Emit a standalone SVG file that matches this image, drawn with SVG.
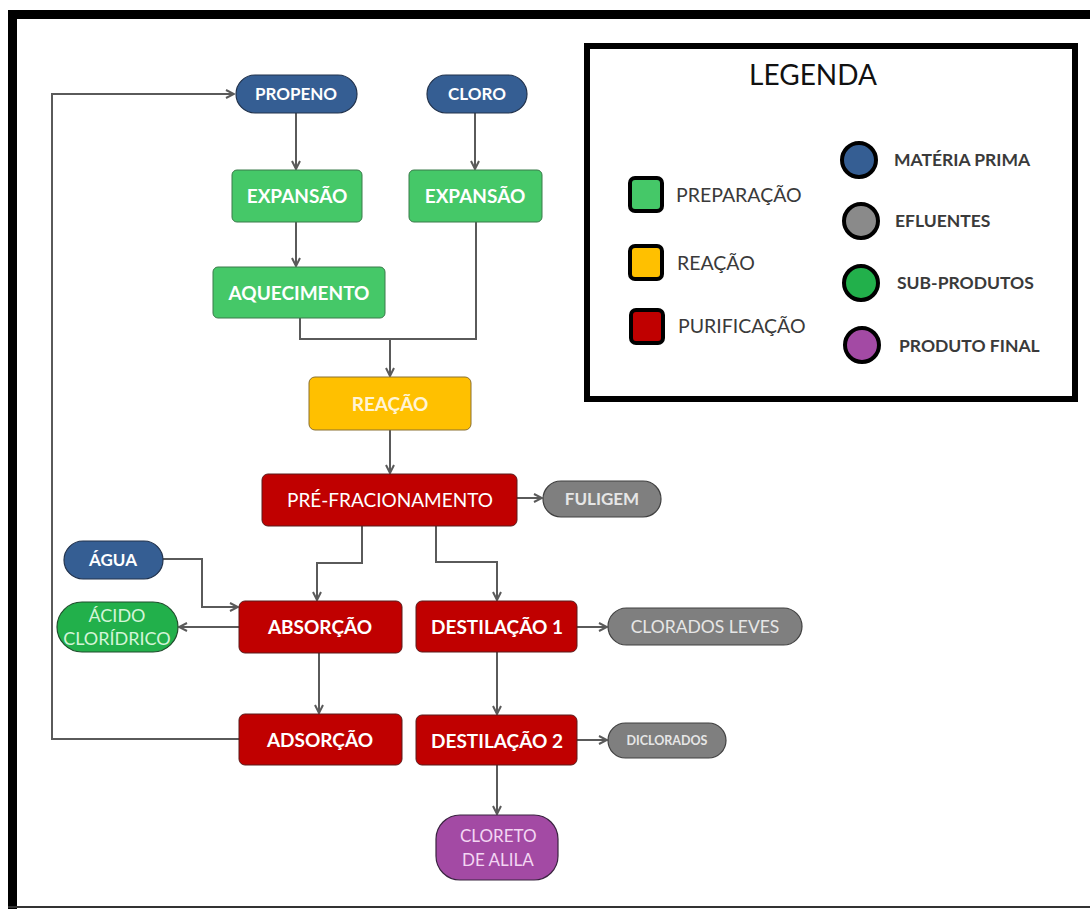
<svg xmlns="http://www.w3.org/2000/svg" width="1090" height="909" viewBox="0 0 1090 909">
<defs>
<style>
text{font-family:Lato,"Open Sans","Liberation Sans",sans-serif;}
.nt{fill:#ffffff;font-size:19px;font-weight:bold;text-anchor:middle;}
.st{fill:#ffffff;font-size:17px;font-weight:bold;text-anchor:middle;}
.leg{fill:#3a3a3a;font-size:19.5px;}
.leg2{fill:#3a3a3a;font-size:17.5px;font-weight:bold;}
.c{fill:none;stroke:#5a5a5a;stroke-width:2;}
.prep{fill:#45c868;stroke:#3a7a4a;stroke-width:1;}
.reac{fill:#ffc000;stroke:#8a7030;stroke-width:1;}
.puri{fill:#c00000;stroke:#5a1a1a;stroke-width:1;}
.mp{fill:#355e93;stroke:#22334d;stroke-width:1.2;}
.ef{fill:#7f7f7f;stroke:#404040;stroke-width:1.2;}
.sp{fill:#22b04b;stroke:#1f4d2c;stroke-width:1.2;}
.pf{fill:#a34aa4;stroke:#3a2440;stroke-width:1.2;}
.lb{stroke:#000;stroke-width:4;}
</style>
<marker id="ah" viewBox="0 0 10 10" refX="9" refY="5" markerWidth="10" markerHeight="10" markerUnits="userSpaceOnUse" orient="auto">
<path d="M1,1 L9,5 L1,9" fill="none" stroke="#5a5a5a" stroke-width="2"/>
</marker>
</defs>
<rect width="1090" height="909" fill="#ffffff"/>
<g id="frame">
<rect x="8" y="10" width="1082" height="9" fill="#000"/>
<rect x="8" y="10" width="9" height="899" fill="#000"/>
<rect x="8" y="906" width="1082" height="2" fill="#333"/>
</g>
<g id="connectors">
<path class="c" d="M296,112 V169" marker-end="url(#ah)"/>
<path class="c" d="M475,112 V169" marker-end="url(#ah)"/>
<path class="c" d="M296,222 V266" marker-end="url(#ah)"/>
<path class="c" d="M300,318 V339 H476 V222"/>
<path class="c" d="M390,339 V376" marker-end="url(#ah)"/>
<path class="c" d="M390,430 V473" marker-end="url(#ah)"/>
<path class="c" d="M517,498 H542" marker-end="url(#ah)"/>
<path class="c" d="M362,526 V563 H317 V600" marker-end="url(#ah)"/>
<path class="c" d="M436,526 V562 H497 V600" marker-end="url(#ah)"/>
<path class="c" d="M163,559 H202 V607 H238" marker-end="url(#ah)"/>
<path class="c" d="M239,627 H179" marker-end="url(#ah)"/>
<path class="c" d="M319,653 V713" marker-end="url(#ah)"/>
<path class="c" d="M239,739 H52 V94 H234" marker-end="url(#ah)"/>
<path class="c" d="M577,627 H607" marker-end="url(#ah)"/>
<path class="c" d="M497,652 V714" marker-end="url(#ah)"/>
<path class="c" d="M577,740 H607" marker-end="url(#ah)"/>
<path class="c" d="M497,765 V814" marker-end="url(#ah)"/>
</g>
<g id="propeno">
<rect class="mp" x="236" y="75" width="121" height="38" rx="19"/>
<text class="st" x="296" y="100">PROPENO</text>
</g>
<g id="cloro">
<rect class="mp" x="427" y="75" width="100" height="38" rx="19"/>
<text class="st" x="477" y="100">CLORO</text>
</g>
<g id="expansao1">
<rect class="prep" x="232" y="170" width="130" height="52" rx="5"/>
<text class="nt" x="297" y="203">EXPANSÃO</text>
</g>
<g id="expansao2">
<rect class="prep" x="409" y="170" width="133" height="52" rx="5"/>
<text class="nt" x="475" y="203">EXPANSÃO</text>
</g>
<g id="aquecimento">
<rect class="prep" x="213" y="267" width="172" height="51" rx="5"/>
<text class="nt" x="299" y="300">AQUECIMENTO</text>
</g>
<g id="reacao">
<rect class="reac" x="309" y="377" width="162" height="53" rx="6"/>
<text class="nt" x="390" y="411" style="fill:#fff4d6">REAÇÃO</text>
</g>
<g id="prefracionamento">
<rect class="puri" x="262" y="474" width="255" height="52" rx="6"/>
<text class="nt" x="390" y="507" style="font-weight:normal">PRÉ-FRACIONAMENTO</text>
</g>
<g id="fuligem">
<rect class="ef" x="543" y="481" width="118" height="36" rx="18"/>
<text class="st" x="602" y="505" style="fill:#e6e6e6">FULIGEM</text>
</g>
<g id="agua">
<rect class="mp" x="64" y="541" width="99" height="38" rx="19"/>
<text class="st" x="113" y="566">ÁGUA</text>
</g>
<g id="acido">
<rect class="sp" x="57" y="602" width="121" height="50" rx="25"/>
<text class="st" x="117" y="622" style="fill:#d4f5d8;font-weight:normal;font-size:18px">ÁCIDO</text>
<text class="st" x="117" y="645" style="fill:#d4f5d8;font-weight:normal;font-size:18px">CLORÍDRICO</text>
</g>
<g id="absorcao">
<rect class="puri" x="239" y="601" width="163" height="52" rx="6"/>
<text class="nt" x="320" y="634">ABSORÇÃO</text>
</g>
<g id="adsorcao">
<rect class="puri" x="239" y="714" width="163" height="51" rx="6"/>
<text class="nt" x="320" y="747">ADSORÇÃO</text>
</g>
<g id="destilacao1">
<rect class="puri" x="416" y="601" width="161" height="51" rx="6"/>
<text class="nt" x="497" y="634">DESTILAÇÃO 1</text>
</g>
<g id="clorados-leves">
<rect class="ef" x="608" y="608" width="194" height="37" rx="18.5"/>
<text class="st" x="705" y="633" style="fill:#e6e6e6;font-weight:normal;font-size:17.5px">CLORADOS LEVES</text>
</g>
<g id="destilacao2">
<rect class="puri" x="416" y="715" width="161" height="50" rx="6"/>
<text class="nt" x="497" y="748">DESTILAÇÃO 2</text>
</g>
<g id="diclorados">
<rect class="ef" x="608" y="723" width="118" height="35" rx="17.5"/>
<text class="st" x="667" y="745" style="fill:#e6e6e6;font-size:12.5px">DICLORADOS</text>
</g>
<g id="cloreto">
<rect class="pf" x="436" y="815" width="122" height="65" rx="24"/>
<text class="st" x="460" y="842" style="fill:#f3d6f3;font-weight:normal;text-anchor:start">CLORETO</text>
<text class="st" x="462" y="866" style="fill:#f3d6f3;font-weight:normal;text-anchor:start">DE ALILA</text>
</g>
<g id="legenda">
<rect x="587" y="46" width="488" height="353" fill="#fff" stroke="#000" stroke-width="6"/>
<text x="813" y="85" style="font-size:28px;fill:#111;text-anchor:middle">LEGENDA</text>
<rect class="lb" x="630" y="178" width="32" height="33" rx="5" fill="#45c868"/>
<text class="leg" x="676" y="202">PREPARAÇÃO</text>
<rect class="lb" x="630" y="246" width="32" height="33" rx="5" fill="#ffc000"/>
<text class="leg" x="677" y="270">REAÇÃO</text>
<rect class="lb" x="631" y="310" width="32" height="33" rx="5" fill="#c00000"/>
<text class="leg" x="678" y="333">PURIFICAÇÃO</text>
<circle class="lb" cx="859" cy="160" r="17" fill="#355e93"/>
<text class="leg2" x="894" y="166">MATÉRIA PRIMA</text>
<circle class="lb" cx="861" cy="221" r="17" fill="#8a8a8a"/>
<text class="leg2" x="895" y="227">EFLUENTES</text>
<circle class="lb" cx="861" cy="283" r="17" fill="#22b04b"/>
<text class="leg2" x="897" y="289">SUB-PRODUTOS</text>
<circle class="lb" cx="862" cy="345" r="17" fill="#a34aa4"/>
<text class="leg2" x="899" y="352">PRODUTO FINAL</text>
</g>
</svg>
